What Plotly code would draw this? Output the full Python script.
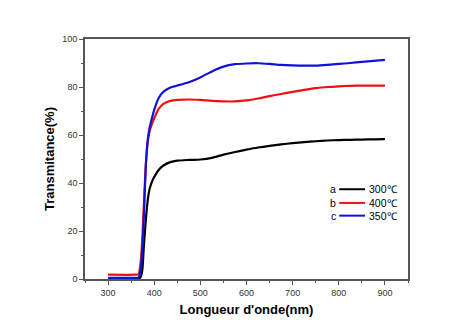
import plotly.graph_objects as go

wavelength = [300, 360, 366, 370, 374, 378, 382, 386, 390, 395, 400, 410, 420, 435, 450,
              475, 500, 525, 550, 575, 600, 625, 650, 675, 700, 725, 750, 775, 800, 825,
              850, 875, 900]
t_300 = [0.3, 0.3, 0.3, 0.6, 3.5, 15, 25, 33, 37.5, 40.5, 42.5, 45.5, 47.3, 48.7, 49.3,
         49.6, 49.8, 50.5, 51.8, 52.9, 53.9, 54.8, 55.5, 56.1, 56.6, 57.0, 57.4, 57.7, 57.9, 58.0,
         58.1, 58.2, 58.3]
t_400 = [1.8, 1.8, 2.0, 6, 16, 33, 48, 57, 61.5, 64.5, 67, 71, 73, 74.2, 74.6,
         74.8, 74.6, 74.2, 74.0, 74.0, 74.4, 75.2, 76.2, 77.1, 78.0, 78.8, 79.5, 80.0, 80.3, 80.5,
         80.6, 80.6, 80.6]
t_350 = [0.5, 0.5, 0.6, 3, 12, 28, 48, 58, 63, 67, 70.5, 75.5, 78, 79.8, 80.6,
         82, 84, 86.5, 88.5, 89.5, 89.8, 89.9, 89.6, 89.2, 89.0, 88.9, 88.9, 89.2, 89.6, 90.0,
         90.5, 90.9, 91.3]

series_labels = ["a", "b", "c"]
series_names = ["300\u2103", "400\u2103", "350\u2103"]
series_values = [t_300, t_400, t_350]
series_colors = ["#000000", "#ee1111", "#1111dd"]

x_ticks = [300, 400, 500, 600, 700, 800, 900]
y_ticks = [0, 20, 40, 60, 80, 100]

fig = go.Figure()
for name, vals, col in zip(series_names, series_values, series_colors):
    fig.add_trace(go.Scatter(x=wavelength, y=vals, mode="lines", name=name,
                             line=dict(color=col, width=2.2, shape="spline", smoothing=0.6),
                             showlegend=False))

axis_common = dict(
    showline=True, linecolor="#555555", linewidth=1.6, mirror=True,
    ticks="outside", ticklen=4, tickwidth=1, tickcolor="#555555",
    showgrid=False, zeroline=False,
    tickfont=dict(family="Liberation Sans, Arial", size=9, color="#333333"),
    title_font=dict(family="Liberation Sans, Arial", size=13, color="#000000"),
)

fig.update_xaxes(range=[250, 950], tickvals=x_ticks,
                 minor=dict(ticks="outside", ticklen=2, dtick=50, tick0=250, tickcolor="#555555"),
                 title_text="<b>Longueur d'onde(nm)</b>", title_standoff=8, **axis_common)
fig.update_yaxes(range=[0, 100], tickvals=y_ticks,
                 minor=dict(ticks="outside", ticklen=2, dtick=10, tick0=0, tickcolor="#555555"),
                 title_text="<b>Transmitance(%)</b>", title_standoff=5, **axis_common)

# legend drawn manually
leg_y = [0.374, 0.317, 0.264]
for lab, name, col, yy in zip(series_labels, series_names, series_colors, leg_y):
    fig.add_annotation(x=0.782, y=yy, xref="paper", yref="paper", text=lab, showarrow=False,
                       xanchor="right", yanchor="middle",
                       font=dict(family="Liberation Sans, Arial", size=10.5, color="#000000"))
    fig.add_shape(type="line", xref="paper", yref="paper", x0=0.787, x1=0.867, y0=yy, y1=yy,
                  line=dict(color=col, width=2))
    fig.add_annotation(x=0.872, y=yy, xref="paper", yref="paper", text=name, showarrow=False,
                       xanchor="left", yanchor="middle",
                       font=dict(family="Liberation Sans, Arial", size=10.5, color="#000000"))

fig.update_layout(
    width=474, height=334,
    margin=dict(l=85, r=66, t=39, b=55),
    plot_bgcolor="white", paper_bgcolor="white",
    showlegend=False,
)

fig.write_html("out.html")
